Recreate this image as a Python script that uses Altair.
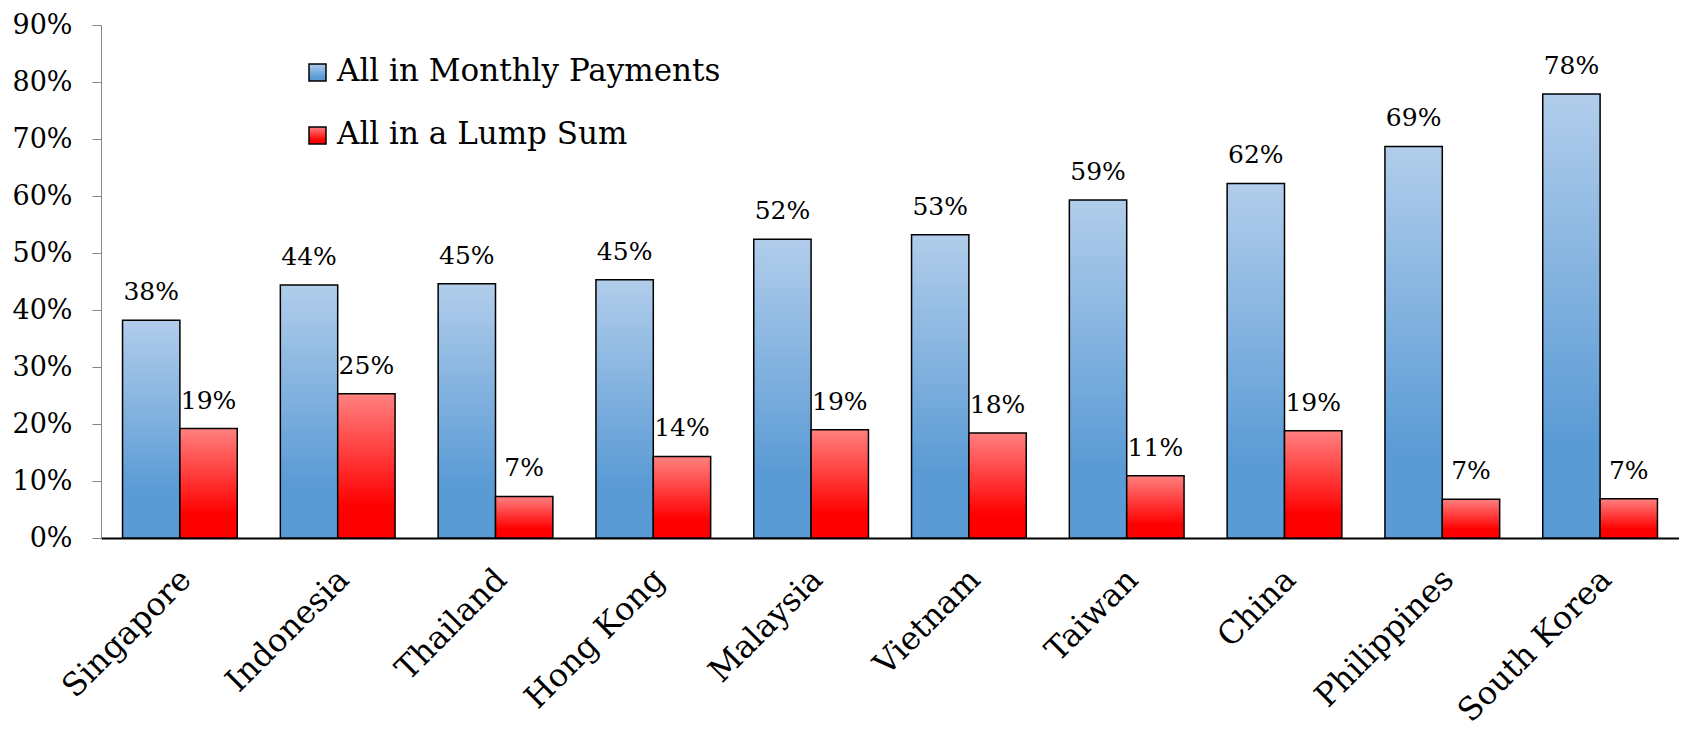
import altair as alt
import pandas as pd

countries = ["Singapore", "Indonesia", "Thailand", "Hong Kong", "Malaysia",
             "Vietnam", "Taiwan", "China", "Philippines", "South Korea"]
series = ["All in Monthly Payments", "All in a Lump Sum"]
monthly = [0.382, 0.444, 0.446, 0.453, 0.524, 0.532, 0.593, 0.622, 0.687, 0.779]
lump = [0.192, 0.253, 0.073, 0.143, 0.190, 0.184, 0.109, 0.188, 0.068, 0.069]
y_ticks = [0, 0.1, 0.2, 0.3, 0.4, 0.5, 0.6, 0.7, 0.8, 0.9]

rows = []
for c, m, l in zip(countries, monthly, lump):
    rows.append({"country": c, "series": series[0], "value": m})
    rows.append({"country": c, "series": series[1], "value": l})
df = pd.DataFrame(rows)
legend_df = pd.DataFrame({"series": series})

FONT = "DejaVu Serif"

grad_blue = alt.LinearGradient(
    gradient="linear", x1=0, x2=0, y1=0, y2=1,
    stops=[alt.GradientStop(color="#b1cdeb", offset=0),
           alt.GradientStop(color="#5b9bd5", offset=0.78),
           alt.GradientStop(color="#5b9bd5", offset=1)])
grad_red = alt.LinearGradient(
    gradient="linear", x1=0, x2=0, y1=0, y2=1,
    stops=[alt.GradientStop(color="#ff8080", offset=0),
           alt.GradientStop(color="#ff0000", offset=0.78),
           alt.GradientStop(color="#ff0000", offset=1)])
grads = [grad_blue, grad_red]

x_enc = alt.X("country:N", sort=countries, title=None,
              scale=alt.Scale(paddingInner=0.273, paddingOuter=0.1365),
              axis=alt.Axis(labelAngle=-45, labelAlign="right", labelBaseline="middle",
                            labelPadding=36, labelOffset=6, labelLimit=0, ticks=False,
                            domainColor="black", domainWidth=2, labelFont=FONT,
                            labelFontSize=32, labelColor="black"))
xo_enc = alt.XOffset("series:N",
                     scale=alt.Scale(domain=series, paddingInner=0, paddingOuter=0))
y_enc = alt.Y("value:Q", title=None,
              scale=alt.Scale(domain=[0, 0.9], nice=False),
              axis=alt.Axis(values=y_ticks, format=".0%", grid=False,
                            domainColor="#868686", tickColor="#868686", tickSize=9,
                            labelPadding=20, labelFont=FONT, labelFontSize=27,
                            labelColor="black"))

layers = []
for i, s in enumerate(series):
    layers.append(
        alt.Chart(df).transform_filter(alt.datum.series == s)
        .mark_bar(fill=grads[i], stroke="black", strokeWidth=1.5)
        .encode(x=x_enc, xOffset=xo_enc, y=y_enc)
    )

labels = alt.Chart(df).mark_text(font=FONT, fontSize=25, dy=-20,
                                 baseline="alphabetic", color="black").encode(
    x=x_enc, xOffset=xo_enc, y=y_enc,
    text=alt.Text("value:Q", format=".0%"))
layers.append(labels)

for i, s in enumerate(series):
    layers.append(
        alt.Chart(legend_df).transform_filter(alt.datum.series == s)
        .mark_rect(fill=grads[i], stroke="black", strokeWidth=1.5)
        .encode(x=alt.value(208), x2=alt.value(225),
                y=alt.value(39 + 63 * i), y2=alt.value(56 + 63 * i))
    )
    layers.append(
        alt.Chart(legend_df).transform_filter(alt.datum.series == s)
        .mark_text(font=FONT, fontSize=31, align="left", baseline="middle",
                   color="black")
        .encode(x=alt.value(236), y=alt.value(47 + 63 * i), text="series:N")
    )

chart = alt.layer(*layers).properties(
    width=1578, height=513,
    padding={"left": 93, "top": 17, "right": 0, "bottom": 190},
    autosize=alt.AutoSizeParams(type="none"),
    background="white",
).configure_view(stroke=None)

chart.save("out.html", embed_options={"renderer": "svg", "actions": False})
